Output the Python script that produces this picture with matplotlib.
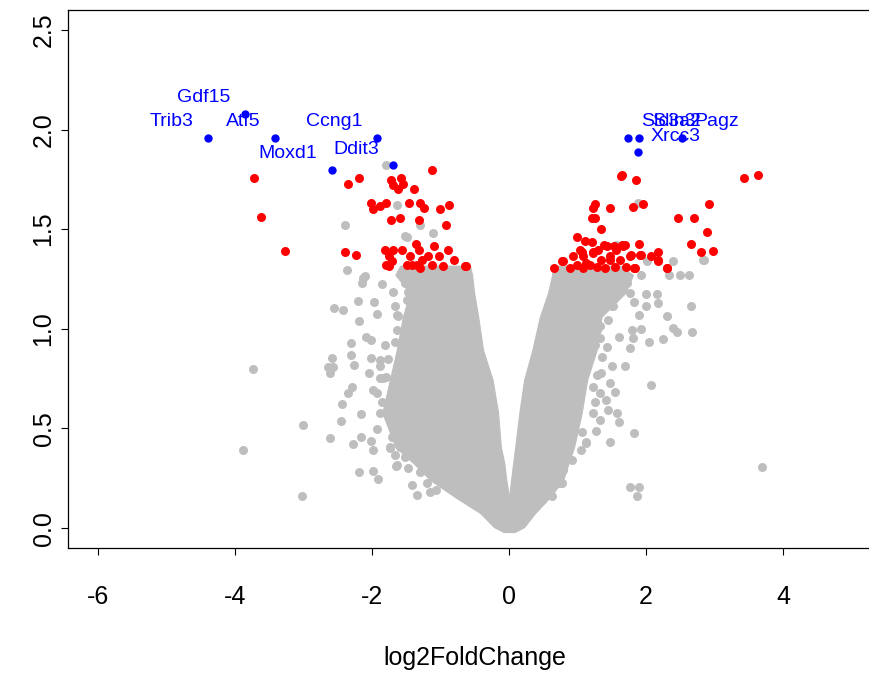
import numpy as np
import matplotlib
matplotlib.use("Agg")
import matplotlib.pyplot as plt

plt.rcParams['font.family'] = ['Liberation Sans', 'DejaVu Sans']
plt.rcParams['axes.unicode_minus'] = False

# dense core of the non-significant genes (outline of the grey V)
core_y = [-0.02, 0.005, 0.075, 0.156, 0.241, 0.327, 0.407, 0.578, 0.744, 0.894, 1.060, 1.181, 1.271, 1.317]
core_left_outer = [-0.08, -0.22, -0.42, -0.79, -1.15, -1.40, -1.66, -1.85, -1.74, -1.64, -1.55, -1.45, -1.66, -1.59]
core_left_inner = [0.0, 0.0, 0.0, 0.0, -0.04, -0.07, -0.12, -0.16, -0.24, -0.38, -0.45, -0.51, -0.54, -0.57]
core_right_inner = [0.0, 0.0, 0.0, 0.0, 0.03, 0.06, 0.09, 0.15, 0.22, 0.34, 0.45, 0.57, 0.63, 0.64]
core_right_outer = [0.08, 0.22, 0.38, 0.60, 0.79, 0.87, 0.95, 1.06, 1.14, 1.28, 1.35, 1.70, 1.81, 1.62]

# scattered grey genes
grey_x = [-2.37, -2.13, -2.15, -1.86, -1.69, -2.21, -1.97, -2.56, -2.43, -1.93, -2.19, -1.64,
          -1.64, -2.09, -2.02, -2.31, -1.81, -2.59, -2.31, -2.02, -1.88, -1.77, -2.64, -2.57,
          -2.61, -2.26, -2.05, -1.84, -2.29, -2.35, -1.98, -2.44, -2.16, -2.45, -3.01, -1.93,
          -2.61, -2.16, -2.28, -2.02, -1.99, -1.74, -1.65, -2.19, -1.99, -1.91, -3.03, -1.41,
          -1.34, -1.15, -3.88, -3.74, -2.39, -1.52, -1.11, -1.30, -1.64, -2.10, -1.79, -1.49,
          -1.88, -1.79, -1.93, -1.86, -1.88, -1.74, -1.64, -1.71, -1.59, -1.74, -1.66, -1.52,
          -1.64, -1.47, -1.30, -1.20, -1.06, -1.66, -1.62, -1.49, -1.52, -1.40, -1.47, -1.66,
          -1.88,
          2.02, 2.40, 2.85, 1.92, 2.50, 2.63, 2.33, 2.00, 2.16, 1.83, 2.18, 2.00, 2.65, 1.50,
          1.90, 2.30, 1.45, 2.40, 1.92, 1.79, 2.45, 2.67, 1.60, 2.25, 2.04, 1.81, 1.77, 1.43,
          1.36, 1.69, 1.51, 2.07, 1.47, 1.55, 1.42, 1.45, 1.57, 1.60, 1.27, 1.83, 1.47, 1.12,
          1.05, 1.77, 1.90, 1.87, 3.69, 0.62, 0.77, 2.83, 1.89, 1.56,
          1.28, 1.33, 1.26, 1.28, 1.35, 1.23, 1.33, 1.26, 1.23, 1.33, 1.06, 1.13, 0.92, 0.79,
          0.74, 0.48, 1.62, 1.72, 1.77, 1.52, 1.33]
grey_y = [1.296, 1.255, 1.230, 1.225, 1.183, 1.142, 1.134, 1.104, 1.095, 1.074, 1.040, 1.070,
          0.995, 0.958, 0.945, 0.928, 0.920, 0.856, 0.869, 0.852, 0.844, 0.848, 0.808, 0.808,
          0.780, 0.819, 0.780, 0.752, 0.707, 0.677, 0.693, 0.622, 0.573, 0.539, 0.518, 0.497,
          0.451, 0.459, 0.421, 0.439, 0.392, 0.404, 0.312, 0.283, 0.288, 0.248, 0.161, 0.215,
          0.166, 0.182, 0.392, 0.800, 1.523, 1.464, 1.481, 1.519, 1.623, 1.263, 1.824, 1.461,
          0.752, 0.760, 0.677, 0.635, 0.576, 0.539, 0.539, 0.459, 0.409, 0.409, 0.367, 0.358,
          0.317, 0.300, 0.283, 0.225, 0.191, 1.112, 1.062, 1.146, 1.230, 1.238, 1.187, 0.936,
          0.811,
          1.338, 1.338, 1.347, 1.271, 1.271, 1.271, 1.271, 1.176, 1.176, 1.134, 1.129, 1.113,
          1.113, 1.113, 1.070, 1.062, 1.045, 1.003, 0.999, 0.992, 0.982, 0.982, 0.958, 0.948,
          0.933, 0.953, 0.903, 0.911, 0.861, 0.814, 0.814, 0.719, 0.727, 0.685, 0.643, 0.593,
          0.579, 0.534, 0.489, 0.476, 0.434, 0.426, 0.392, 0.208, 0.208, 0.161, 0.305, 0.161,
          0.225, 1.347, 1.632, 1.422,
          0.995, 0.953, 0.920, 0.769, 0.777, 0.710, 0.677, 0.635, 0.576, 0.543, 0.484, 0.434,
          0.342, 0.291, 0.225, 0.141, 1.246, 1.230, 1.180, 1.113, 1.012]

# significant genes
red_x = [-3.72, -3.62, -3.27, -1.13, -2.35, -2.19, -2.39, -2.23, -1.73, -1.69, -1.58, -1.62,
         -1.55, -1.39, -2.02, -1.99, -1.89, -1.80, -1.46, -1.30, -1.24, -1.01, -0.88, -1.72,
         -1.59, -1.32, -0.92, -1.81, -1.76, -1.79, -1.69, -1.57, -1.45, -1.42, -1.36, -1.31,
         -1.27, -1.18, -1.10, -1.13, -1.03, -0.96, -0.89, -0.80, -0.64, -1.35, -1.49, -1.71,
         -1.76, -1.30, -0.63,
         1.64, 1.65, 1.85, 3.43, 3.64, 1.25, 1.22, 1.47, 1.81, 1.95, 1.21, 1.26, 1.35, 2.46,
         2.70, 2.92, 2.89, 2.65, 2.80, 2.98, 0.99, 1.11, 1.39, 1.65, 1.69, 1.90, 1.78, 1.93,
         2.08, 2.18, 2.18, 2.31, 1.84, 0.94, 1.06, 1.23, 0.79, 1.21, 1.43, 1.53, 1.67, 0.66,
         0.77, 1.04, 1.08, 1.13, 1.22, 1.30, 1.35, 1.40, 1.47, 1.56, 1.48, 1.62, 1.71, 1.76,
         1.83, 1.91, 2.17, 2.30, 0.99, 1.08, 1.18, 1.28, 1.55, 0.89]
red_y = [1.757, 1.559, 1.393, 1.799, 1.729, 1.757, 1.385, 1.372, 1.749, 1.724, 1.757, 1.702,
         1.727, 1.704, 1.632, 1.601, 1.618, 1.632, 1.632, 1.632, 1.605, 1.601, 1.622, 1.548,
         1.556, 1.548, 1.523, 1.397, 1.363, 1.322, 1.397, 1.397, 1.363, 1.322, 1.427, 1.397,
         1.347, 1.363, 1.414, 1.322, 1.363, 1.313, 1.397, 1.347, 1.317, 1.322, 1.322, 1.338,
         1.313, 1.305, 1.313,
         1.766, 1.774, 1.749, 1.757, 1.774, 1.628, 1.606, 1.605, 1.612, 1.628, 1.556, 1.556,
         1.501, 1.556, 1.556, 1.628, 1.484, 1.427, 1.385, 1.393, 1.461, 1.439, 1.422, 1.422,
         1.422, 1.427, 1.372, 1.372, 1.367, 1.383, 1.338, 1.305, 1.305, 1.363, 1.388, 1.380,
         1.338, 1.434, 1.417, 1.417, 1.417, 1.305, 1.338, 1.397, 1.367, 1.330, 1.388, 1.397,
         1.347, 1.305, 1.363, 1.397, 1.347, 1.347, 1.310, 1.363, 1.305, 1.372, 1.347, 1.305,
         1.322, 1.305, 1.322, 1.310, 1.310, 1.305]

# top genes, labelled
left_genes = ["Trib3", "Gdf15", "Atf5", "Moxd1", "Ccng1", "Ddit3"]
left_x = [-4.40, -3.85, -3.42, -2.59, -1.93, -1.69]
left_y = [1.958, 2.079, 1.958, 1.799, 1.958, 1.821]
right_genes = ["Slc3a2", "Slin3", "Xrcc3", "Pagz"]
right_x = [1.74, 1.90, 1.89, 2.52]
right_y = [1.958, 1.958, 1.886, 1.958]

fig = plt.figure(figsize=(8.69, 6.75), dpi=100)
ax = fig.add_axes([68 / 869, 127 / 675, 813.6 / 869, 538 / 675])

grey = "#BEBEBE"
ax.fill_betweenx(core_y, core_left_outer, core_left_inner, color=grey, lw=0.8)
ax.fill_betweenx(core_y, core_right_inner, core_right_outer, color=grey, lw=0.8)
ax.scatter(grey_x, grey_y, s=42, c=grey, linewidths=0)
ax.scatter(red_x, red_y, s=42, c="#FF0000", linewidths=0)
ax.scatter(left_x + right_x, left_y + right_y, s=36, c="#0000FF", linewidths=0)

for g, x, y in zip(left_genes, left_x, left_y):
    ax.annotate(g, (x, y), xytext=(-10.5, 11.5), textcoords="offset points",
                ha="right", va="center", color="#0000FF", fontsize=14)
for g, x, y in zip(right_genes, right_x, right_y):
    ax.annotate(g, (x, y), xytext=(9, 11.5), textcoords="offset points",
                ha="left", va="center", color="#0000FF", fontsize=14)

ax.set_xlim(-6.44, 5.44)
ax.set_ylim(-0.1, 2.6)
ax.set_xticks([-6, -4, -2, 0, 2, 4])
ax.set_yticks([0, 0.5, 1.0, 1.5, 2.0, 2.5])
ax.set_yticklabels(["0.0", "0.5", "1.0", "1.5", "2.0", "2.5"], rotation=90, va="center")
ax.tick_params(direction="out", length=5, width=0.8, labelsize=18, colors="black")
ax.tick_params(axis="x", pad=22)
ax.tick_params(axis="y", pad=4)
for sp in ax.spines.values():
    sp.set_linewidth(0.9)

ax.set_xlabel("log2FoldChange", fontsize=18)
ax.xaxis.set_label_coords(0.5, -0.2045)
ax.xaxis.label.set_va("center")

fig.savefig("out.png", dpi=100)
